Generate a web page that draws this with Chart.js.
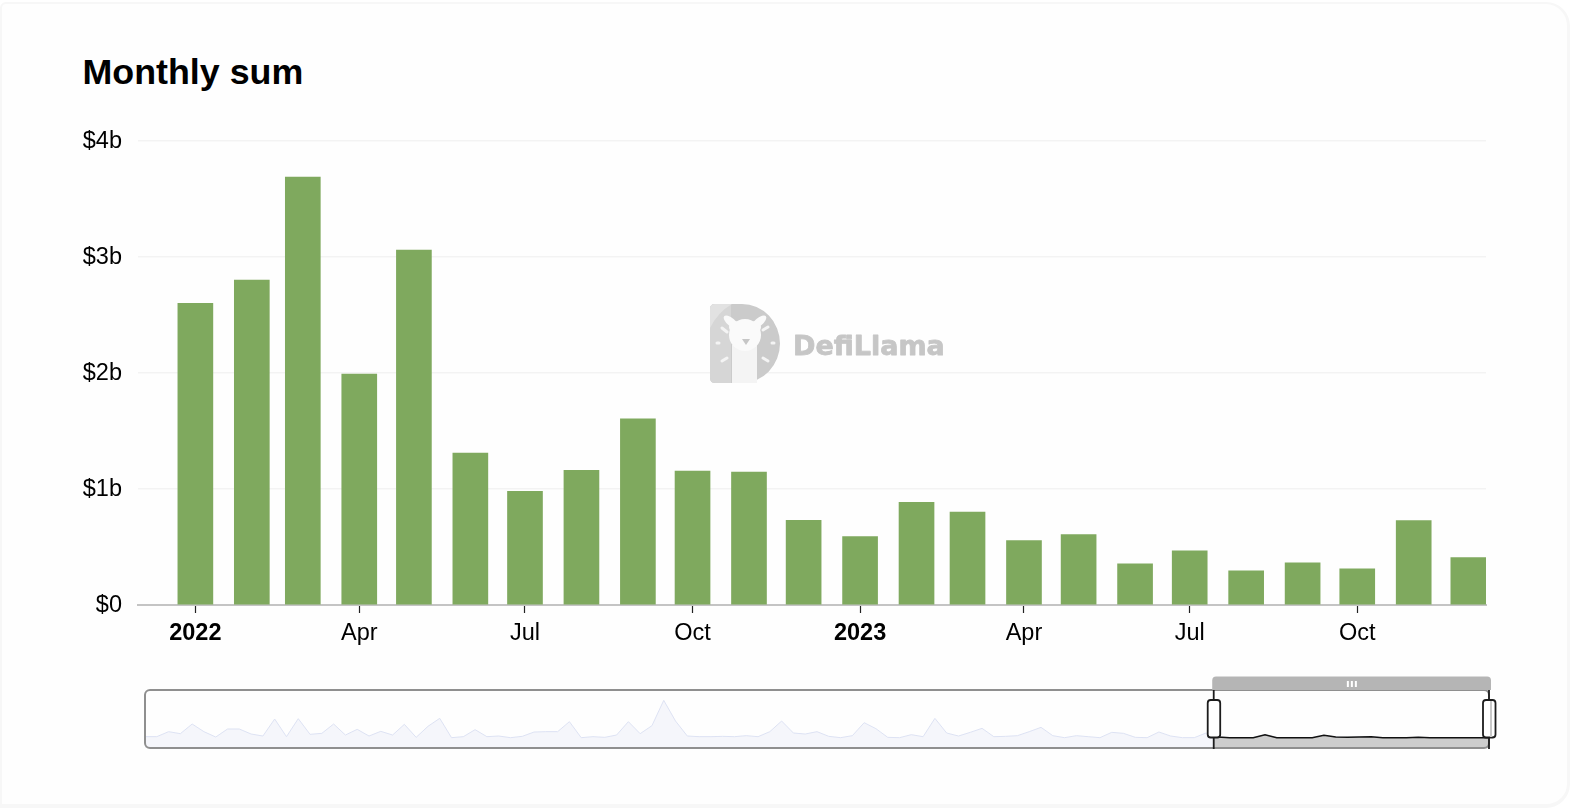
<!DOCTYPE html>
<html>
<head>
<meta charset="utf-8">
<title>Monthly sum</title>
<script src="https://cdn.jsdelivr.net/npm/chart.js@4"></script>
<style>
  html, body { margin: 0; padding: 0; background: #fff; overflow: hidden; }
  body { width: 1578px; height: 808px; position: relative; font-family: "Liberation Sans", sans-serif; }
  #card { position: absolute; box-sizing: border-box; left: 0; top: 2px; width: 1570px; height: 806px; border-style: solid; border-color: #f7f7f7; border-width: 2px 3px 4px 2px; border-radius: 6px 24px 24px 0; background: #fefefe; }
  #title { position: absolute; left: 82.5px; top: 50.5px; margin: 0; font-size: 35.8px; line-height: 42px; font-weight: 700; color: #000; }
  #main-chart, #slider-chart { position: absolute; left: 0; }
  #main-chart { top: 0; }
  #slider-chart { top: 660px; }
  #logo { position: absolute; left: 700px; top: 295px; }
</style>
</head>
<body>
<div id="card"></div>
<h1 id="title">Monthly sum</h1>
<canvas id="main-chart" width="1578" height="808"></canvas>
<canvas id="slider-chart" width="1578" height="100"></canvas>
<svg id="logo" width="260" height="100" viewBox="700 295 260 100">
  <path d="M715 304 H742 A38 39.5 0 0 1 742 383 H715 Q710 383 710 378 V309 Q710 304 715 304 Z" fill="#cbcbcb"/>
  <path d="M715 383 Q710 383 710 378 V309 Q710 304 715 304 H731 V383 Z" fill="#d6d6d6"/>
  <path d="M710 328 V309 Q710 304 715 304 H732 Q718 312 710 328 Z" fill="#e2e2e2"/>
  <path d="M732 345 H757 V383 H732 Z" fill="#f4f4f4"/>
  <ellipse cx="731" cy="322" rx="9" ry="4" transform="rotate(40 731 322)" fill="#fafafa"/>
  <ellipse cx="759" cy="322" rx="9" ry="4" transform="rotate(-40 759 322)" fill="#fafafa"/>
  <circle cx="745" cy="335" r="16" fill="#fafafa"/>
  <circle cx="735" cy="327" r="6" fill="#fafafa"/>
  <circle cx="755" cy="327" r="6" fill="#fafafa"/>
  <path d="M742 339 H750 L746 345 Z" fill="#c6c6c6"/>
  <g stroke="#f4f4f4" stroke-width="3" stroke-linecap="round">
    <path d="M722 328 L727 332"/><path d="M717 343 H719"/><path d="M722 361 L727 358"/>
    <path d="M763 330 L768 327"/><path d="M772 343 H774"/><path d="M763 358 L768 361"/>
  </g>
  <text x="793" y="355" font-family="DejaVu Sans" font-weight="700" font-size="27" fill="#c6c6c6" stroke="#c6c6c6" stroke-width="0.8" stroke-linejoin="round">DefiLlama</text>
</svg>
<script>
const months = ['2022-01-01','2022-02-01','2022-03-01','2022-04-01','2022-05-01','2022-06-01','2022-07-01','2022-08-01','2022-09-01','2022-10-01','2022-11-01','2022-12-01',
  '2023-01-01','2023-02-01','2023-03-01','2023-04-01','2023-05-01','2023-06-01','2023-07-01','2023-08-01','2023-09-01','2023-10-01','2023-11-01','2023-12-01'];
const monthlySum = [2.60,2.80,3.69,1.99,3.06,1.31,0.98,1.16,1.605,1.155,1.145,0.73,0.59,0.885,0.80,0.555,0.607,0.355,0.468,0.295,0.364,0.312,0.728,0.408];

const tickDates = ['2022-01-01','2022-04-01','2022-07-01','2022-10-01','2023-01-01','2023-04-01','2023-07-01','2023-10-01'];
const tickLabels = ['2022','Apr','Jul','Oct','2023','Apr','Jul','Oct'];
const yTicks = [0, 1, 2, 3, 4];

// overview strip under the chart, relative heights
const overview = [34,34,49,43,72,49,33,57,57,42,36,87,34,88,41,44,72,39,56,36,50,39,71,32,65,89,31,34,55,34,36,31,35,48,49,49,79,31,34,32,39,79,43,67,143,81,36,34,34,35,34,37,34,49,81,45,42,49,35,
  31,37,76,58,32,31,40,34,89,45,36,47,59,34,35,37,49,62,37,31,37,34,31,47,44,32,31,48,36,31,31,45,33,31,31,31,40,31,31,31,31,38,33,32,33,34,31,31,31,32,31,31,31,31,31,31];
const selection = [90.65, overview.length - 1];

const toDays = s => Date.parse(s + 'T00:00:00Z') / 86400000;
const FONT = '"Liberation Sans", sans-serif';
const LABEL_SIZE = 23.5;

new Chart(document.getElementById('main-chart'), {
  type: 'bar',
  data: {
    datasets: [{
      data: months.map((m, i) => ({ x: toDays(m), y: monthlySum[i] })),
      backgroundColor: '#7fa95e',
      barThickness: 35
    }]
  },
  options: {
    responsive: false,
    animation: false,
    devicePixelRatio: 1,
    layout: { autoPadding: false, padding: { left: 0, top: 141, right: 92, bottom: 153 } },
    plugins: { legend: { display: false }, tooltip: { enabled: false } },
    scales: {
      x: {
        type: 'linear',
        offset: false,
        min: toDays(months[0]) - 31.5,
        max: toDays(months[months.length - 1]) + 9.7,
        afterBuildTicks: axis => { axis.ticks = tickDates.map(d => ({ value: toDays(d) })); },
        afterFit: axis => { axis.height = 50; },
        border: { color: '#c4c4c4', width: 2 },
        grid: { offset: false, drawOnChartArea: false, drawTicks: true, tickLength: 8, tickColor: '#222', tickWidth: 1.2 },
        ticks: {
          autoSkip: false,
          maxRotation: 0,
          padding: 6,
          color: '#000',
          font: ctx => ({ family: FONT, size: LABEL_SIZE, weight: tickLabels[ctx.index] && tickLabels[ctx.index].startsWith('20') ? 'bold' : 'normal' }),
          callback: (v, i) => tickLabels[i]
        }
      },
      y: {
        min: 0,
        max: 4,
        afterBuildTicks: axis => { axis.ticks = yTicks.map(v => ({ value: v })); },
        afterFit: axis => { axis.width = 138; },
        border: { display: false },
        grid: { color: '#f3f3f3', lineWidth: 1.5, drawTicks: false },
        ticks: {
          padding: 16,
          labelOffset: 1,
          color: '#000',
          font: { family: FONT, size: LABEL_SIZE },
          callback: v => '$' + v + (v ? 'b' : '')
        }
      }
    }
  }
});

// frame, drag bar and handles of the range slider
const sliderFrame = {
  id: 'sliderFrame',
  afterDatasetsDraw(chart) {
    const { ctx, chartArea: a, scales: { x } } = chart;
    const left = x.getPixelForValue(selection[0]);
    const right = x.getPixelForValue(selection[1]);

    ctx.save();
    ctx.strokeStyle = '#8f8f8f';
    ctx.lineWidth = 2;
    ctx.beginPath();
    ctx.roundRect(a.left, a.top, a.width, a.height, 5);
    ctx.stroke();

    ctx.fillStyle = '#b5b5b5';
    ctx.beginPath();
    ctx.roundRect(left - 1.5, a.top - 13.5, right - left + 3.5, 13.5, [4, 4, 0, 0]);
    ctx.fill();
    ctx.fillStyle = '#fff';
    const mid = (left + right) / 2;
    [-4.5, -0.5, 3.5].forEach(dx => ctx.fillRect(mid + dx, a.top - 9, 2, 6));

    ctx.strokeStyle = '#1c1c1c';
    ctx.lineWidth = 1.8;
    [left, right].forEach(px => {
      ctx.beginPath();
      ctx.moveTo(px, a.top);
      ctx.lineTo(px, a.bottom + 1);
      ctx.stroke();
      ctx.fillStyle = '#fff';
      ctx.beginPath();
      ctx.roundRect(px - 6, a.top + 10, 12.5, 37.5, 3);
      ctx.fill();
      ctx.stroke();
    });
    ctx.fillStyle = '#c8c8c8';
    ctx.fillRect(right + 1, a.top + 11, 2, 36);
    ctx.restore();
  }
};

// the selected window starts between two overview points
const startIndex = Math.floor(selection[0]);
const startFrac = selection[0] - startIndex;
const selectedPoints = [{
  x: selection[0],
  y: overview[startIndex] + (overview[startIndex + 1] - overview[startIndex]) * startFrac
}].concat(overview.map((v, i) => ({ x: i, y: v })).filter(p => p.x > selection[0]));

new Chart(document.getElementById('slider-chart'), {
  type: 'line',
  data: {
    datasets: [
      {
        data: selectedPoints,
        borderColor: '#111',
        borderWidth: 1.5,
        backgroundColor: '#cdcdcd',
        fill: 'origin',
        pointRadius: 0,
        tension: 0
      },
      {
        data: overview.map((v, i) => ({ x: i, y: v })),
        borderColor: '#dde2f3',
        borderWidth: 1,
        backgroundColor: '#f5f6fb',
        fill: 'origin',
        pointRadius: 0,
        tension: 0
      }
    ]
  },
  options: {
    responsive: false,
    animation: false,
    devicePixelRatio: 1,
    layout: { autoPadding: false, padding: { left: 145, top: 30, right: 89, bottom: 12 } },
    plugins: { legend: { display: false }, tooltip: { enabled: false } },
    scales: {
      x: { type: 'linear', display: false, min: 0, max: overview.length - 1 },
      y: { display: false, min: 0, max: 174 }
    }
  },
  plugins: [sliderFrame]
});
</script>
</body>
</html>
